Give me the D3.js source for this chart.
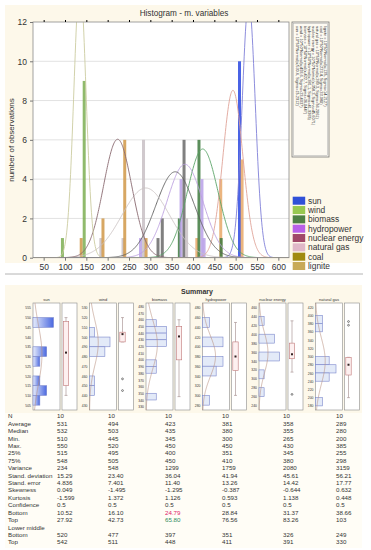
<!DOCTYPE html>
<meta charset="utf-8">
<style>
    body { margin: 0; background: #ffffff; }
    text { font-family: "Liberation Sans", Arial, sans-serif; fill: #333; }
</style>
<body>
<script src="https://d3js.org/d3.v7.min.js"></script>
<script>
// ---------- top histogram ----------
const names = ["sun", "wind", "biomass", "hydropower", "nuclear energy", "natural gas", "coal", "lignite"];
const means = [530.6, 493.6, 422.7, 381.1, 358.3, 289.3, 223.4, 135];
const sigmas = ["15.2912", "23.4037", "36.0447", "41.9365", "45.6071", "56.2061", "33.080", "14.2127"];
const swatchColors = ["#3050d8", "#98c850", "#4e8044", "#b860e8", "#a04868", "#e0b8c8", "#a08a10", "#c8aa58"];
const curveColors = ["#8080d8", "#e0a498", "#5aa468", "#bca0e0", "#606060", "#ccc4c4", "#8a6a70", "#cccca0"];
const barColors = ["#2a48e0", "#e8a868", "#3e7a3e", "#b8a0e8", "#6a6a6a", "#c8c0c4", "#d09848", "#7cae52"];
// [value, count]
const histBars = [
    [[509, 10]],
    [[409, 1], [465, 4], [515, 5]],
    [[368, 2], [414, 6], [466, 1]],
    [[277, 1], [372, 4], [421, 4], [426, 1]],
    [[318, 1], [328, 2], [379, 6]],
    [[184, 1], [236, 1], [284, 6], [385, 2]],
    [[138, 1], [189, 2], [240, 6], [290, 1]],
    [[94, 1], [145, 9]]
];
const xTicks = [50, 100, 150, 200, 250, 300, 350, 400, 450, 500, 550, 600];
const yTicks = [0, 2, 4, 6, 8, 10, 12];

// ---------- summary panels ----------
const panelNames = ["sun", "wind", "biomass", "hydropower", "nuclear energy", "natural gas"];
const panelTicks = [[505, 555, 5], [430, 530, 10], [330, 480, 10], [280, 480, 20], [240, 460, 20], [180, 420, 20]];
// [bin start, count]
const panelBins = [
    [[545, 3], [530, 2], [525, 1], [515, 1], [510, 2], [505, 1]],
    [[500, 1], [490, 4], [480, 3], [450, 1], [440, 1]],
    [[450, 1], [440, 2], [430, 2], [420, 2], [390, 1], [380, 1], [340, 1]],
    [[440, 1], [400, 3], [360, 3], [340, 2], [280, 1]],
    [[420, 1], [380, 3], [340, 4], [300, 1], [260, 1]],
    [[380, 1], [360, 1], [280, 2], [260, 3], [240, 2], [180, 1]]
];
// whisker low, q1, median, q3, whisker high
const panelBoxes = [
    [510, 515, 532, 548, 550],
    [495, 495, 503, 505, 520],
    [345, 400, 435, 450, 460],
    [300, 351, 380, 410, 450],
    [315, 345, 355, 380, 430],
    [200, 255, 280, 298, 298]
];
const panelOutliers = [[], [457, 445], [], [], [265], [385, 376]];

// ---------- table ----------
const rowLabels = ["N", "Average", "Median", "Min.", "Max.", "25%", "75%", "Variance", "Stand. deviation",
    "Stand. error", "Skewness", "Kurtosis", "Confidence", "Bottom", "Top", "Lower middle", "Bottom", "Top"];
const colSun = ["10", "531", "532", "510", "550", "515", "548", "234", "15.29", "4.836", "0.049", "-1.599", "0.5", "10.52", "27.92", "", "520", "542"];
const colWind = ["10", "494", "503", "445", "520", "495", "505", "548", "23.40", "7.401", "-1.495", "1.372", "0.5", "16.10", "42.73", "", "477", "511"];
const colBiomass = ["10", "423", "435", "345", "450", "400", "450", "1299", "36.04", "11.40", "-1.295", "1.126", "0.5", "24.79", "65.80", "", "397", "448"];
const colHydro = ["10", "381", "380", "300", "450", "351", "410", "1759", "41.94", "13.26", "-0.387", "0.593", "0.5", "28.84", "76.56", "", "351", "411"];
const colNuclear = ["10", "358", "355", "265", "430", "345", "380", "2080", "45.61", "14.42", "-0.644", "1.138", "0.5", "31.37", "83.26", "", "326", "391"];
const colGas = ["10", "289", "280", "200", "385", "255", "298", "3159", "56.21", "17.77", "0.632", "0.448", "0.5", "38.66", "103", "", "249", "330"];
const columns = [colSun, colWind, colBiomass, colHydro, colNuclear, colGas];
const colX = [57, 108, 165, 222, 283, 336];

const svg = d3.select("body").append("svg")
    .attr("width", 371)
    .attr("height", 550);

function pdf(v, m, s) {
    return Math.exp(-(v - m) * (v - m) / (2 * s * s)) / (s * Math.sqrt(2 * Math.PI));
}

// backgrounds
svg.append("rect").attr("x", 5).attr("y", 5).attr("width", 357).attr("height", 258).attr("fill", "#fdf8ea");
svg.append("rect").attr("x", 5).attr("y", 285).attr("width", 357).attr("height", 128).attr("fill", "#fdf8ea");
svg.append("rect").attr("x", 5).attr("y", 413).attr("width", 357).attr("height", 135).attr("fill", "#fffdf6");
svg.append("line").attr("x1", 5).attr("x2", 363).attr("y1", 274).attr("y2", 274)
    .attr("stroke", "#b4b4b4").attr("stroke-width", 1);

let x = d3.scaleLinear().domain([25, 625]).range([33, 289]);
let y = d3.scaleLinear().domain([0, 12]).range([257.7, 22]);

svg.append("text").attr("x", 184).attr("y", 16).attr("text-anchor", "middle")
    .style("font-size", "8.2px").text("Histogram - m. variables");

svg.append("rect").attr("x", 33).attr("y", 22).attr("width", 256).attr("height", 235.7)
    .attr("fill", "#ffffff");

svg.append("g").selectAll("line").data([2, 4, 6, 8, 10]).join("line")
    .attr("x1", 33).attr("x2", 289)
    .attr("y1", d => y(d)).attr("y2", d => y(d))
    .attr("stroke", "#e2e2e2").attr("stroke-width", 1);

svg.append("clipPath").attr("id", "plot")
    .append("rect").attr("x", 33).attr("y", 22).attr("width", 256).attr("height", 235.7);

let plot = svg.append("g").attr("clip-path", "url(#plot)");

// bars
histBars.forEach(function (bars, i) {
    plot.append("g").selectAll("rect").data(bars).join("rect")
        .attr("x", d => x(d[0]) - 1.5)
        .attr("y", d => y(d[1]))
        .attr("width", 3)
        .attr("height", d => y(0) - y(d[1]))
        .attr("fill", barColors[i])
        .attr("fill-opacity", 0.85);
});

// fitted curves
const grid = d3.range(25, 626, 1);
means.forEach(function (m, i) {
    let s = +sigmas[i];
    let line = d3.line()
        .x(d => x(d))
        .y(d => y(500 * pdf(d, m, s)));
    plot.append("path").datum(grid)
        .attr("d", line)
        .attr("fill", "none")
        .attr("stroke", curveColors[i])
        .attr("stroke-width", 0.9);
});

svg.append("rect").attr("x", 33).attr("y", 22).attr("width", 256).attr("height", 235.7)
    .attr("fill", "none").attr("stroke", "#8a8a8a").attr("stroke-width", 0.8);

let yAxis = svg.append("g").attr("transform", "translate(33,0)")
    .call(d3.axisLeft(y).tickValues(yTicks).tickSize(3).tickSizeOuter(0));
let xAxis = svg.append("g").attr("transform", "translate(0,257.7)")
    .call(d3.axisBottom(x).tickValues(xTicks).tickSize(3).tickSizeOuter(0));
svg.append("g").attr("transform", "translate(0,22)")
    .call(d3.axisTop(x).tickValues(xTicks).tickSize(2).tickSizeOuter(0).tickFormat(""));
[yAxis, xAxis].forEach(function (a) {
    a.select(".domain").remove();
    a.selectAll("line").attr("stroke", "#777");
    a.selectAll("text").style("font-size", "8.5px").attr("fill", "#333")
        .style("font-family", "'Liberation Sans', Arial, sans-serif");
});
svg.selectAll(".domain").remove();

svg.append("text")
    .attr("transform", "translate(14,140) rotate(-90)")
    .attr("text-anchor", "middle")
    .style("font-size", "8px")
    .text("number of observations");

// formula box
svg.append("rect").attr("x", 292).attr("y", 22).attr("width", 37).attr("height", 135)
    .attr("fill", "#fdfaf2").attr("stroke", "#777").attr("stroke-width", 0.8);
svg.append("rect").attr("x", 293.5).attr("y", 23.5).attr("width", 34).attr("height", 132)
    .attr("fill", "none").attr("stroke", "#aaa").attr("stroke-width", 0.5);
names.forEach(function (n, i) {
    svg.append("text")
        .attr("transform", "translate(" + (295.5 + i * 4.1) + ",26) rotate(90)")
        .style("font-size", "3.9px")
        .attr("fill", "#444")
        .text(n + " = 10*50*Normal(x;" + means[i] + ", Sigma=" + sigmas[i] + ")");
});

// colour legend
names.forEach(function (n, i) {
    let ly = 200.7 + i * 9.33;
    svg.append("rect").attr("x", 292.7).attr("y", ly - 4).attr("width", 12.5).attr("height", 8)
        .attr("fill", swatchColors[i]);
    svg.append("text").attr("x", 308).attr("y", ly + 3)
        .style("font-size", "8.4px").text(n);
});

// ---------- Summary ----------
svg.append("text").attr("x", 197).attr("y", 294).attr("text-anchor", "middle")
    .style("font-size", "7px").style("font-weight", "bold").text("Summary");

let sunGrad = svg.append("defs").append("linearGradient").attr("id", "sunbar");
sunGrad.append("stop").attr("offset", "0%").attr("stop-color", "#e6ecfb");
sunGrad.append("stop").attr("offset", "100%").attr("stop-color", "#4a68e0");

let countScale = d3.scaleLinear().range([0, 20.5]);

panelNames.forEach(function (name, i) {
    let x0 = 33 + i * 56.5;
    let [tMin, tMax, step] = panelTicks[i];
    let py = d3.scaleLinear().domain([tMin - step / 2, tMax + step / 2]).range([410, 303]);
    let bins = panelBins[i];
    countScale.domain([0, d3.max(bins, d => d[1])]);

    svg.append("text").attr("x", x0 + 13.5).attr("y", 300.5).attr("text-anchor", "middle")
        .style("font-size", "4px").text(name);

    svg.append("rect").attr("x", x0).attr("y", 303).attr("width", 27).attr("height", 107)
        .attr("fill", "#ffffff").attr("stroke", "#8a8a8a").attr("stroke-width", 0.6);

    svg.append("g").selectAll("rect").data(bins).join("rect")
        .attr("x", x0)
        .attr("y", d => py(d[0] + step))
        .attr("width", d => countScale(d[1]))
        .attr("height", d => py(d[0]) - py(d[0] + step))
        .attr("fill", i === 0 ? "url(#sunbar)" : "#e3eaf8")
        .attr("stroke", "#7a86cc")
        .attr("stroke-width", 0.6);

    // fitted normal
    let m = +columns[i][1], s = +columns[i][8];
    let vals = d3.range(tMin - step / 2, tMax + step / 2 + 0.01, step / 10);
    svg.append("path").datum(vals)
        .attr("d", d3.line().x(d => x0 + countScale(10 * step * pdf(d, m, s))).y(d => py(d)))
        .attr("fill", "none").attr("stroke", "#b89080").attr("stroke-width", 0.6);

    let ax = svg.append("g").attr("transform", "translate(" + (x0 - 1) + ",0)")
        .call(d3.axisLeft(py).tickValues(d3.range(tMin, tMax + step / 2, step)).tickSize(0).tickPadding(1));
    ax.select(".domain").remove();
    ax.selectAll("text").style("font-size", "3.4px").attr("fill", "#555");

    // box plot
    let bx = x0 + 29;
    svg.append("rect").attr("x", bx).attr("y", 303).attr("width", 15).attr("height", 107)
        .attr("fill", "#ffffff").attr("stroke", "#8a8a8a").attr("stroke-width", 0.6);
    let [wLo, q1, med, q3, wHi] = panelBoxes[i];
    let cx = bx + 4;
    svg.append("line").attr("x1", cx).attr("x2", cx).attr("y1", py(wHi)).attr("y2", py(wLo))
        .attr("stroke", "#a08888").attr("stroke-width", 0.6);
    [wLo, wHi].forEach(function (w) {
        svg.append("line").attr("x1", cx - 1.5).attr("x2", cx + 1.5).attr("y1", py(w)).attr("y2", py(w))
            .attr("stroke", "#a08888").attr("stroke-width", 0.6);
    });
    svg.append("rect").attr("x", bx + 1.3).attr("y", py(q3)).attr("width", 5.4)
        .attr("height", Math.max(py(q1) - py(q3), 1))
        .attr("fill", "#fdf0f0").attr("stroke", "#c07878").attr("stroke-width", 0.6);
    svg.append("rect").attr("x", cx - 1).attr("y", py(med) - 1).attr("width", 2).attr("height", 2)
        .attr("fill", "#332222");
    svg.append("g").selectAll("circle").data(panelOutliers[i]).join("circle")
        .attr("cx", cx).attr("cy", d => py(d)).attr("r", 0.9)
        .attr("fill", "none").attr("stroke", "#333").attr("stroke-width", 0.6);
});

// ---------- table ----------
const rowY = d3.scaleLinear().domain([0, 17]).range([418.3, 544.4]);
svg.append("g").selectAll("text").data(rowLabels).join("text")
    .attr("x", 8).attr("y", (d, i) => rowY(i))
    .style("font-size", "6.2px").text(d => d);

columns.forEach(function (col, c) {
    svg.append("g").selectAll("text").data(col).join("text")
        .attr("x", colX[c]).attr("y", (d, i) => rowY(i))
        .style("font-size", "6.2px")
        .style("fill", (d, i) => (c === 2 && i === 13) ? "#e0206a" : (c === 2 && i === 14) ? "#2f8a5a" : "#333")
        .text(d => d);
});
</script>
